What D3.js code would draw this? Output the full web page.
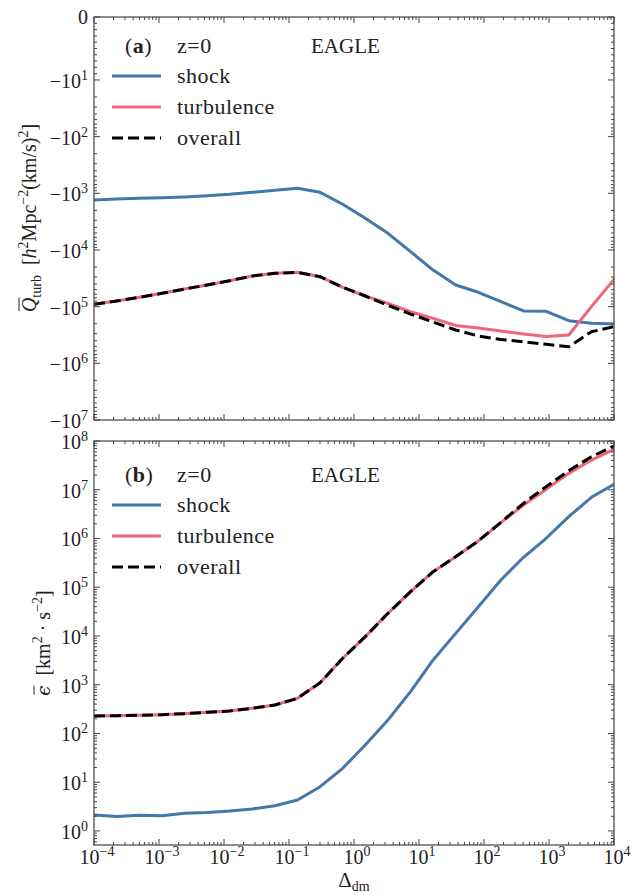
<!DOCTYPE html>
<html><head><meta charset="utf-8">
<script src="https://cdn.jsdelivr.net/npm/d3@7/dist/d3.min.js"></script>
<style>html,body{margin:0;padding:0;background:#fff;} svg{display:block;font-family:"Liberation Serif","DejaVu Serif",serif;}</style>
</head><body>
<svg id="chart" width="638" height="895"></svg>
<script>
// ---------------- data ----------------
const delta = [1.00e-4, 2.23e-4, 4.96e-4, 1.11e-3, 2.46e-3, 5.48e-3, 1.22e-2, 2.72e-2, 6.06e-2, 0.135, 0.301, 0.670,
               1.49, 3.33, 7.41, 16.5, 36.7, 81.8, 182, 406, 905, 2015, 4490, 1.0e4];
// panel (a): Q_turb
const qShock = [-1.31e3, -1.26e3, -1.22e3, -1.20e3, -1.16e3, -1.10e3, -1.04e3, -960, -885, -816, -960, -1.56e3,
                -2.76e3, -5.08e3, -1.07e4, -2.26e4, -4.15e4, -5.58e4, -8.18e4, -1.19e5, -1.21e5, -1.77e5, -1.97e5, -2.02e5];
const qTurb  = [-9.1e4, -7.96e4, -6.84e4, -5.82e4, -4.89e4, -4.15e4, -3.48e4, -2.88e4, -2.58e4, -2.48e4, -2.96e4, -4.56e4,
                -6.49e4, -8.73e4, -1.23e5, -1.61e5, -2.15e5, -2.38e5, -2.69e5, -3.04e5, -3.37e5, -3.16e5, -1.00e5, -3.30e4];
const qAll   = [-9.1e4, -7.96e4, -6.84e4, -5.82e4, -4.89e4, -4.15e4, -3.48e4, -2.88e4, -2.58e4, -2.48e4, -2.96e4, -4.56e4,
                -6.49e4, -9.5e4, -1.35e5, -1.87e5, -2.58e5, -3.30e5, -3.80e5, -4.16e5, -4.62e5, -5.09e5, -2.77e5, -2.26e5];
// panel (b): epsilon
const eShock = [2.13, 1.97, 2.1, 2.06, 2.3, 2.4, 2.57, 2.83, 3.3, 4.3, 8.1, 19.3,
                58, 189, 720, 3.22e3, 1.13e4, 3.98e4, 1.41e5, 4.11e5, 1.01e6, 2.80e6, 7.0e6, 1.29e7];
const eTurb  = [229, 232, 236, 243, 255, 272, 290, 329, 384, 527, 1.10e3, 3.49e3,
                9.7e3, 2.92e4, 8.1e4, 2.08e5, 4.24e5, 8.9e5, 2.11e6, 4.86e6, 1.02e7, 2.17e7, 4.07e7, 6.76e7];
const eAll   = [229, 232, 236, 243, 255, 272, 290, 329, 384, 527, 1.10e3, 3.49e3,
                9.7e3, 2.92e4, 8.1e4, 2.08e5, 4.24e5, 8.9e5, 2.15e6, 5.27e6, 1.16e7, 2.46e7, 4.76e7, 7.89e7];
const seriesNames = ["shock", "turbulence", "overall"];
const xTickExps = [-4, -3, -2, -1, 0, 1, 2, 3, 4];
const topTickExps = [1, 2, 3, 4, 5, 6, 7];
const botTickExps = [0, 1, 2, 3, 4, 5, 6, 7, 8];

// ---------------- styling ----------------
const BLUE = "#4477AA", PINK = "#EE6677", BLACK = "#000";
const AXC = "#444";
const L = 94, R = 614;
const topY = [17, 420], botY = [441, 845];

const svg = d3.select("#chart");

const x = d3.scaleLog().domain([1e-4, 1e4]).range([L, R]);

// matplotlib-style symlog (linthresh=10, linscale=1)
const LT = 10, LS = 1 / (1 - 1 / 10);
function symT(v) { const a = Math.abs(v); return a <= LT ? v / LT * LS : Math.sign(v) * (LS + Math.log10(a / LT)); }
const yTopLin = d3.scaleLinear().domain([symT(0), symT(-1e7)]).range(topY);
const yTop = v => yTopLin(symT(v));

const yBot = d3.scaleLog().domain([0.515, 1e8]).range([botY[1], botY[0]]);

// clip paths
const defs = svg.append("defs");
defs.append("clipPath").attr("id", "clipTop").append("rect").attr("x", L).attr("y", topY[0]).attr("width", R - L).attr("height", topY[1] - topY[0]);
defs.append("clipPath").attr("id", "clipBot").append("rect").attr("x", L).attr("y", botY[0]).attr("width", R - L).attr("height", botY[1] - botY[0]);

function drawLines(clipId, yScale, sets) {
  const g = svg.append("g").attr("clip-path", `url(#${clipId})`);
  sets.forEach(s => {
    const line = d3.line().x((d, i) => x(delta[i])).y(d => yScale(d));
    g.append("path").datum(s.data).attr("d", line).attr("fill", "none")
      .attr("stroke", s.color).attr("stroke-width", 3)
      .attr("stroke-dasharray", s.dash || null).attr("stroke-linejoin", "round").attr("stroke-linecap", s.dash ? "butt" : "round");
  });
}
drawLines("clipTop", yTop, [
  {data: qShock, color: BLUE}, {data: qTurb, color: PINK}, {data: qAll, color: BLACK, dash: "11,5"}]);
drawLines("clipBot", yBot, [
  {data: eShock, color: BLUE}, {data: eTurb, color: PINK}, {data: eAll, color: BLACK, dash: "11,5"}]);

// ---------------- axes ----------------
function xMinor() { const out = []; for (let e = -4; e < 4; e++) for (let m = 2; m <= 9; m++) out.push(m * Math.pow(10, e)); return out; }

function frame(y0, y1, yScale, yMajors, yMinors) {
  const g = svg.append("g");
  g.append("rect").attr("x", L).attr("y", y0).attr("width", R - L).attr("height", y1 - y0)
    .attr("fill", "none").attr("stroke", AXC).attr("stroke-width", 1.2);
  const tick = (x1, y1_, x2, y2) => g.append("line").attr("x1", x1).attr("y1", y1_).attr("x2", x2).attr("y2", y2).attr("stroke", AXC).attr("stroke-width", 1);
  xTickExps.forEach(e => { const px = x(Math.pow(10, e)); tick(px, y1, px, y1 - 6); tick(px, y0, px, y0 + 6); });
  xMinor().forEach(v => { const px = x(v); tick(px, y1, px, y1 - 3); tick(px, y0, px, y0 + 3); });
  yMajors.forEach(v => { const py = yScale(v); tick(L, py, L + 6, py); tick(R, py, R - 6, py); });
  yMinors.forEach(v => { const py = yScale(v); if (py < y0 - 0.5 || py > y1 + 0.5) return; tick(L, py, L + 3, py); tick(R, py, R - 3, py); });
  return g;
}

// top panel ticks
const topMajors = [0].concat(topTickExps.map(e => -Math.pow(10, e)));
const topMinors = [];
for (let k = 1; k <= 9; k++) topMinors.push(-k);
for (let e = 1; e < 7; e++) for (let m = 2; m <= 9; m++) topMinors.push(-m * Math.pow(10, e));
const gTop = frame(topY[0], topY[1], yTop, topMajors, topMinors);

// bottom panel ticks
const botMajors = botTickExps.map(e => Math.pow(10, e));
const botMinors = [];
for (let e = -1; e < 8; e++) for (let m = 2; m <= 9; m++) botMinors.push(m * Math.pow(10, e));
const gBot = frame(botY[0], botY[1], yBot, botMajors, botMinors);

// tick labels
function powLabel(g, px, py, anchor, sign, exp) {
  const t = g.append("text").attr("x", px).attr("y", py).attr("text-anchor", anchor)
    .attr("font-size", 20).attr("fill", "#222");
  t.append("tspan").text((sign ? "\u2212" : "") + "10");
  t.append("tspan").attr("font-size", 14).attr("dy", -8).text(exp < 0 ? "\u2212" + (-exp) : String(exp));
  return t;
}
gTop.append("text").attr("x", 88).attr("y", yTop(0) + 7).attr("text-anchor", "end").attr("font-size", 20).attr("fill", "#222").text("0");
topTickExps.forEach(e => powLabel(gTop, 88, yTop(-Math.pow(10, e)) + 8, "end", true, e));
botTickExps.forEach(e => powLabel(gBot, 88, yBot(Math.pow(10, e)) + 8, "end", false, e));
xTickExps.forEach(e => powLabel(gBot, x(Math.pow(10, e)) + 3, 864, "middle", false, e));

// ---------------- axis titles ----------------
function yTitle(cx, cy, build, overIdx) {
  const g = svg.append("g").attr("transform", `translate(${cx},${cy}) rotate(-90)`);
  const t = g.append("text").attr("x", 0).attr("y", 0).attr("text-anchor", "middle").attr("font-size", 20).attr("fill", "#222");
  build(t);
  const ext = t.node().getExtentOfChar(overIdx);
  g.append("line").attr("x1", ext.x + 1).attr("x2", ext.x + ext.width).attr("y1", ext.y + 1).attr("y2", ext.y + 1)
    .attr("stroke", "#222").attr("stroke-width", 1);
}
yTitle(36, 218, t => {
  t.append("tspan").attr("font-style", "italic").text("Q");
  t.append("tspan").attr("font-size", 14).attr("dy", 5).text("turb");
  t.append("tspan").attr("dy", -5).text("\u2002[");
  t.append("tspan").attr("font-style", "italic").text("h");
  t.append("tspan").attr("font-size", 14).attr("dy", -8).text("2");
  t.append("tspan").attr("dy", 8).text("Mpc");
  t.append("tspan").attr("font-size", 14).attr("dy", -8).text("\u22122");
  t.append("tspan").attr("dy", 8).text("(km/s)");
  t.append("tspan").attr("font-size", 14).attr("dy", -8).text("2");
  t.append("tspan").attr("dy", 8).text("]");
}, 0);
yTitle(50, 643, t => {
  t.append("tspan").attr("font-style", "italic").attr("font-family", "DejaVu Serif").attr("font-size", 18).text("\u03F5");
  t.append("tspan").text("\u2002[km");
  t.append("tspan").attr("font-size", 14).attr("dy", -8).text("2");
  t.append("tspan").attr("dy", 8).text(" \u00B7 s");
  t.append("tspan").attr("font-size", 14).attr("dy", -8).text("\u22122");
  t.append("tspan").attr("dy", 8).text("]");
}, 0);

// x title
const xt = svg.append("text").attr("x", 354).attr("y", 887).attr("text-anchor", "middle").attr("font-size", 21).attr("fill", "#222");
xt.append("tspan").text("\u0394");
xt.append("tspan").attr("font-size", 14).attr("dy", 4).text("dm");

// ---------------- legends ----------------
function legend(y0, letter) {
  const g = svg.append("g").attr("font-size", 22).attr("letter-spacing", 0.5).attr("fill", "#222");
  const h = g.append("text").attr("x", 125).attr("y", y0);
  h.append("tspan").text("(");
  h.append("tspan").attr("font-weight", "bold").text(letter);
  h.append("tspan").text(")");
  g.append("text").attr("x", 177).attr("y", y0).text("z=0");
  g.append("text").attr("x", 311).attr("y", y0).attr("font-size", 21).attr("letter-spacing", 0).text("EAGLE");
  const styles = [{c: BLUE}, {c: PINK}, {c: BLACK, dash: "11,5"}];
  seriesNames.forEach((name, i) => {
    const ly = y0 + 23 + i * 31;
    g.append("line").attr("x1", 112).attr("x2", 161).attr("y1", ly).attr("y2", ly)
      .attr("stroke", styles[i].c).attr("stroke-width", 3).attr("stroke-dasharray", styles[i].dash || null);
    g.append("text").attr("x", 177).attr("y", ly + 7).text(name);
  });
}
legend(53, "a");
legend(482, "b");
</script>
</body></html>
